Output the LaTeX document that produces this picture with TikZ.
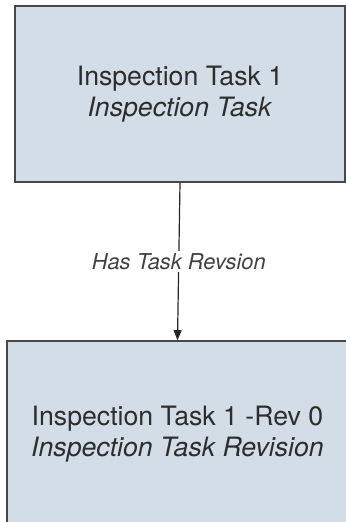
\documentclass[tikz,border=0pt]{standalone}
\usepackage{fontspec}
\setmainfont{TeX Gyre Heros}
\usepackage{tikz}
\usetikzlibrary{arrows.meta,positioning}
\definecolor{boxfill}{RGB}{211,221,231}
\definecolor{boxline}{RGB}{72,72,72}
\definecolor{txtgrey}{RGB}{45,45,45}

\begin{document}
\begin{tikzpicture}[x=0.75pt,y=-0.75pt,
  taskbox/.style={draw=boxline,fill=boxfill,line width=1.2pt,align=center,
    text=txtgrey,font=\fontsize{20}{23.5}\selectfont,inner sep=0pt},
  linklabel/.style={fill=white,text=txtgrey!90,font=\fontsize{16.4}{18}\selectfont\itshape,inner sep=2pt}]
\useasboundingbox (0,0) rectangle (346,522);
\clip (0,0) rectangle (346,522);
% ---------- the two records ----------
\node[taskbox,minimum width=247.5pt,minimum height=132pt] (task) at (180,94)
  {Inspection Task 1\\\textit{Inspection Task}};
\node[taskbox,minimum width=255.75pt,minimum height=139.5pt] (rev) at (177.5,434)
  {Inspection Task 1 -Rev 0\\\textit{Inspection Task Revision}};
% ---------- the link ----------
\draw[-{Triangle[length=7.5pt,width=6pt]},line width=0.9pt,black!85] (task.south) -- (rev.north)
  node[linklabel,midway] (has) {Has Task Revsion};
\end{tikzpicture}
\end{document}
